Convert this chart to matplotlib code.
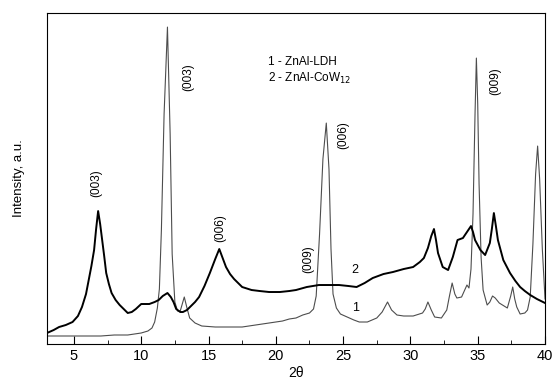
import matplotlib

matplotlib.use("Agg")
import matplotlib.pyplot as plt
from matplotlib.ticker import MultipleLocator

plt.rcParams["font.family"] = ["Liberation Sans", "DejaVu Sans"]

# curve 1: ZnAl-LDH (grey)
x1 = [3, 4, 5, 6, 7, 8, 9, 10, 10.5, 10.8, 11.0, 11.2, 11.35, 11.5, 11.7, 11.95,
      12.15, 12.3, 12.5, 12.7, 12.9, 13.2, 13.4, 13.6, 14.0, 14.5, 15.5, 16.5,
      17.5, 18.5, 19.5, 20.5, 21.0, 21.5, 22.0, 22.5, 22.8, 23.0, 23.25, 23.5,
      23.75, 23.95, 24.1, 24.25, 24.5, 24.8, 25.3, 25.8, 26.2, 26.8, 27.5, 27.9,
      28.3, 28.6, 29.0, 29.5, 30.2, 30.9, 31.1, 31.3, 31.55, 31.8, 32.3, 32.7,
      32.9, 33.1, 33.3, 33.45, 33.8, 34.2, 34.35, 34.5, 34.65, 34.8, 34.9, 35.0,
      35.1, 35.25, 35.4, 35.7, 35.9, 36.1, 36.3, 36.6, 37.2, 37.45, 37.6, 37.75,
      37.9, 38.15, 38.5, 38.7, 38.9, 39.1, 39.3, 39.45, 39.6, 39.8, 40]
y1 = [8, 8, 8, 8, 8, 9, 9, 11, 13, 16, 22, 36, 55, 114, 230, 317,
      210, 90, 42, 33, 33, 47, 36, 26, 21, 18, 17, 17,
      17, 19, 21, 23, 25, 26, 29, 31, 35, 48, 110, 185,
      221, 175, 95, 50, 36, 30, 27, 24, 22, 22, 26, 32,
      42, 34, 29, 28, 28, 31, 35, 42, 34, 27, 26, 34,
      48, 61, 50, 46, 47, 59, 56, 75, 130, 230, 286, 240,
      160, 87, 54, 39, 42, 48, 46, 41, 36, 48, 57, 45,
      37, 30, 31, 34, 47, 100, 170, 198, 165, 95, 45]

# curve 2: ZnAl-CoW12 (black)
x2 = [3, 3.5, 3.9, 4.4, 4.9, 5.3, 5.6, 5.9, 6.1, 6.3, 6.5, 6.65, 6.8, 6.95, 7.1,
      7.25, 7.4, 7.6, 7.8, 8.1, 8.4, 8.7, 9.0, 9.3, 9.6, 10.0, 10.3, 10.6, 11.0,
      11.3, 11.6, 11.95, 12.2, 12.4, 12.6, 12.9, 13.1, 13.4, 13.7, 14.0, 14.3,
      14.7, 15.1, 15.5, 15.8, 16.05, 16.3, 16.6, 16.9, 17.5, 18.2, 18.8, 19.5,
      20.3, 21.0, 21.5, 22.3, 23.2, 24.0, 24.7, 25.4, 26.0, 26.6, 27.2, 28.0,
      28.7, 29.5, 30.2, 30.7, 31.0, 31.3, 31.55, 31.75, 31.9, 32.05, 32.4, 32.8,
      33.15, 33.5, 33.9, 34.3, 34.5, 34.65, 34.8, 35.2, 35.55, 35.9, 36.05, 36.2,
      36.35, 36.5, 36.9, 37.4, 37.8, 38.15, 38.5, 38.9, 39.4, 40]
y2 = [11, 14, 17, 19, 22, 28, 37, 50, 64, 78, 94, 115, 133, 120, 104,
      88, 71, 60, 51, 44, 39, 35, 31, 32, 35, 40, 40, 40, 42,
      44, 48, 51, 47, 42, 35, 32, 32, 34, 38, 42, 47,
      58, 71, 85, 95, 86, 77, 70, 65, 57, 54, 53, 52,
      52, 53, 54, 57, 59, 59, 59, 58, 57, 61, 66, 70,
      72, 75, 77, 82, 86, 96, 108, 115, 104, 91, 77, 74,
      87, 104, 106, 114, 118, 112, 104, 94, 89, 101, 115, 131,
      118, 104, 84, 71, 63, 57, 53, 49, 45, 41]

# reflection labels: (text, x, y)
peak_labels = [("(003)", 6.65, 161), ("(003)", 13.5, 267), ("(006)", 15.9, 116),
               ("(009)", 22.4, 85), ("(006)", 25.0, 209), ("(009)", 36.3, 263)]

fig = plt.figure(figsize=(5.54, 3.85), dpi=100)
ax = fig.add_axes([0.0848, 0.1065, 0.899, 0.8595])

ax.plot(x1, y1, color="#4d4d4d", lw=0.8)
ax.plot(x2, y2, color="black", lw=1.4)

for txt, x, y in peak_labels:
    ax.text(x, y, txt, rotation=90, ha="center", va="center", fontsize=8.5)

ax.text(25.9, 36, "1", ha="center", va="center", fontsize=9)
ax.text(25.9, 74, "2", ha="center", va="center", fontsize=9)
ax.text(19.4, 282, "1 - ZnAl-LDH", ha="left", va="center", fontsize=8.5)
ax.text(19.4, 266, "2 - ZnAl-CoW$_{12}$", ha="left", va="center", fontsize=8.5)

ax.set_xlim(3, 40)
ax.set_ylim(0, 331)
ax.xaxis.set_major_locator(MultipleLocator(5))
ax.xaxis.set_minor_locator(MultipleLocator(2.5))
ax.tick_params(axis="x", which="major", direction="in", length=6, labelsize=10.5)
ax.tick_params(axis="x", which="minor", direction="in", length=3)
ax.set_yticks([])
ax.set_xlabel("2\u03b8", fontsize=10, labelpad=2)
ax.set_ylabel("Intensity, a.u.", fontsize=9.5, labelpad=16)

fig.savefig("out.png", dpi=100)
